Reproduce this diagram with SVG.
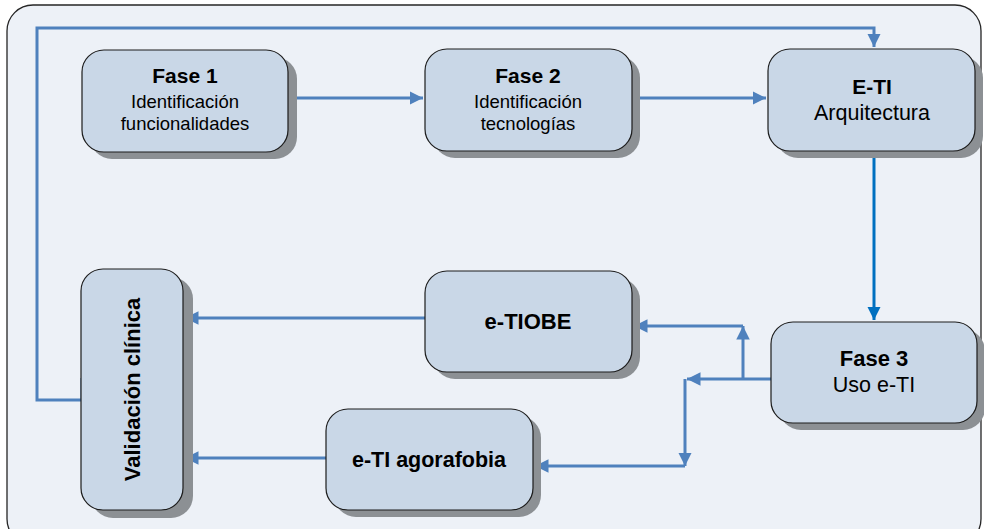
<svg xmlns="http://www.w3.org/2000/svg" width="984" height="529" viewBox="0 0 984 529">
  <defs>
    <style>
      .box { fill: #C9D7E7; stroke: #1C1C1C; stroke-width: 1.2; }
      .shadow { fill: #8C9094; }
      .link { fill: none; stroke: #4F81BD; stroke-width: 3; }
      .t { font-family: "Liberation Sans", Arial, sans-serif; fill: #000; text-anchor: middle; }
      .b { font-weight: bold; font-size: 21px; }
      .bl { font-weight: bold; font-size: 22px; }
      .r { font-size: 18.5px; }
      .r2 { font-size: 21.5px; }
    </style>
    <marker id="arrow" viewBox="0 0 10 10" refX="10" refY="5" markerWidth="4.5" markerHeight="4.5" orient="auto" markerUnits="strokeWidth">
      <path d="M0,0 L10,5 L0,10 z" fill="#4F81BD"/>
    </marker>
    <marker id="arrowDark" viewBox="0 0 10 10" refX="10" refY="5" markerWidth="4.5" markerHeight="4.5" orient="auto" markerUnits="strokeWidth">
      <path d="M0,0 L10,5 L0,10 z" fill="#0070C0"/>
    </marker>
  </defs>

  <rect x="0" y="0" width="984" height="529" fill="#FFFFFF"/>
  <!-- panel -->
  <rect x="7" y="5" width="974" height="540" rx="26" fill="#EDF1F7" stroke="#262626" stroke-width="1.3"/>

  <!-- connectors -->
  <g id="connectors">
    <path class="link" d="M82,378 V400 H37 V28 H874 V47" marker-end="url(#arrow)"/>
    <path class="link" d="M288,98 H423" marker-end="url(#arrow)"/>
    <path class="link" d="M632,98 H766" marker-end="url(#arrow)"/>
    <path d="M874,151 V320" fill="none" stroke="#0070C0" stroke-width="3" marker-end="url(#arrowDark)"/>
    <path class="link" d="M771,379 H687" marker-end="url(#arrow)"/>
    <path class="link" d="M743,379 V326" marker-end="url(#arrow)"/>
    <path class="link" d="M743,326 H634" marker-end="url(#arrow)"/>
    <path class="link" d="M685,379 V466" marker-end="url(#arrow)"/>
    <path class="link" d="M685,466 H535" marker-end="url(#arrow)"/>
    <path class="link" d="M425,318 H185" marker-end="url(#arrow)"/>
    <path class="link" d="M326,458 H185" marker-end="url(#arrow)"/>
  </g>

  <g id="fase1">
    <rect class="shadow" x="90" y="57" width="207" height="102" rx="22"/>
    <rect class="box" x="82" y="50" width="206" height="102" rx="22"/>
    <text class="t b" x="185" y="83">Fase 1</text>
    <text class="t r" x="185" y="108">Identificación</text>
    <text class="t r" x="185" y="130">funcionalidades</text>
  </g>

  <g id="fase2">
    <rect class="shadow" x="433" y="56" width="207" height="102" rx="22"/>
    <rect class="box" x="425" y="49" width="207" height="102" rx="22"/>
    <text class="t b" x="528" y="83">Fase 2</text>
    <text class="t r" x="528" y="108">Identificación</text>
    <text class="t r" x="528" y="130">tecnologías</text>
  </g>

  <g id="eti">
    <rect class="shadow" x="776" y="56" width="207" height="102" rx="22"/>
    <rect class="box" x="768" y="49" width="207" height="102" rx="22"/>
    <text class="t b" x="872" y="94">E-TI</text>
    <text class="t r2" x="872" y="120">Arquitectura</text>
  </g>

  <g id="fase3">
    <rect class="shadow" x="779" y="329" width="206" height="101" rx="22"/>
    <rect class="box" x="771" y="322" width="206" height="101" rx="22"/>
    <text class="t bl" x="874" y="366">Fase 3</text>
    <text class="t r2" x="874" y="392">Uso e-TI</text>
  </g>

  <g id="etiobe">
    <rect class="shadow" x="433" y="278" width="207" height="101" rx="22"/>
    <rect class="box" x="425" y="271" width="207" height="101" rx="22"/>
    <text class="t bl" x="528" y="329">e-TIOBE</text>
  </g>

  <g id="agorafobia">
    <rect class="shadow" x="334" y="416" width="207" height="101" rx="22"/>
    <rect class="box" x="326" y="409" width="207" height="101" rx="22"/>
    <text class="t bl" x="429" y="467" style="font-size:21.5px">e-TI agorafobia</text>
  </g>

  <g id="validacion">
    <rect class="shadow" x="91" y="277" width="102" height="241" rx="22"/>
    <rect class="box" x="81" y="269" width="102" height="241" rx="22"/>
    <text class="t bl" transform="translate(140,389.5) rotate(-90)" x="0" y="0">Validación clínica</text>
  </g>
</svg>
